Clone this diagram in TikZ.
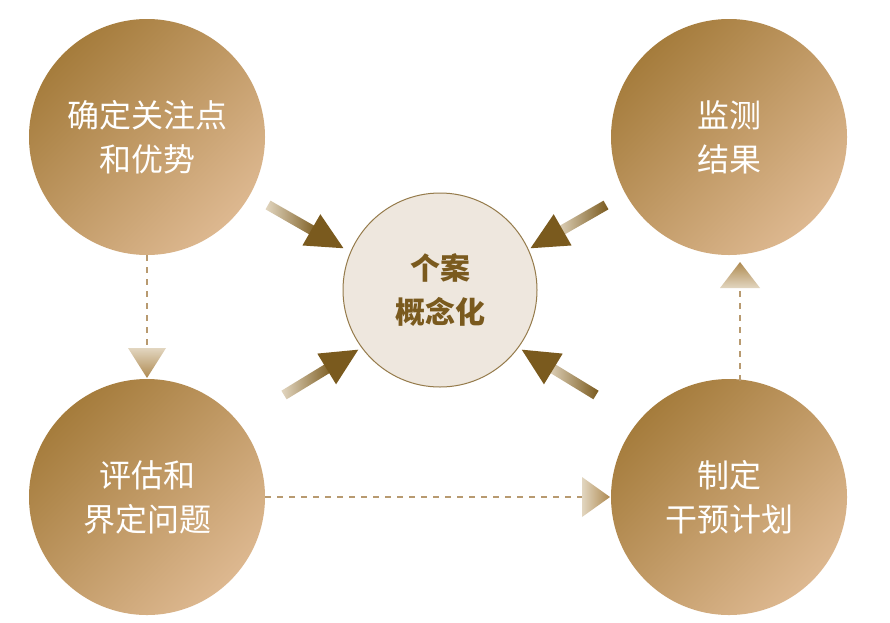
\documentclass[tikz,border=0pt]{standalone}
\usepackage{fontspec}
\newfontfamily\cjk{Noto Sans CJK SC}
\definecolor{cdark}{HTML}{A57C3C}
\definecolor{clight}{HTML}{DDB890}
\definecolor{cctr}{HTML}{EEE7DE}
\definecolor{cbrown}{HTML}{7A5A1E}
\definecolor{cdash}{HTML}{B89A70}
\definecolor{ctail}{HTML}{E2D6C0}
\tikzset{
  bigc/.style={circle,minimum size=236pt,inner sep=0pt,text=white,font=\cjk\fontsize{32}{44}\selectfont,align=center,
    top color=cdark,bottom color=clight,shading angle=45},
  ctrc/.style={circle,minimum size=194pt,inner sep=0pt,fill=cctr,draw=cbrown!80,line width=1pt,text=cbrown,
    font=\cjk\bfseries\fontsize{30}{44}\selectfont,align=center},
  dashl/.style={cdash,line width=1.5pt,dash pattern=on 6pt off 6pt},
}
\newcommand{\flowarrow}[3]{%
  \begin{scope}[shift={(#1,#2)},rotate=#3]
    \shade[left color=ctail,right color=cbrown] (0,-5) -- (55,-5) -- (55,5) -- (0,5) -- cycle;
    \fill[cbrown] (50,-18) -- (87,0) -- (50,18) -- cycle;
  \end{scope}}
\begin{document}
\begin{tikzpicture}[x=1pt,y=-1pt]
\useasboundingbox (0,0) rectangle (890,622);
\fill[white] (0,0) rectangle (890,622);
\node[bigc] (tl) at (147,137) {确定关注点\\和优势};
\node[bigc] (tr) at (729,137) {监测\\结果};
\node[bigc] (bl) at (147,497) {评估和\\界定问题};
\node[bigc] (br) at (729,497) {制定\\干预计划};
\node[ctrc] (c) at (440,290) {个案\\概念化};
\flowarrow{268}{205}{-29.8}
\flowarrow{606}{205}{-150.2}
\flowarrow{284}{395}{31.4}
\flowarrow{596}{395}{148.6}
% dashed connectors
\coordinate (a1) at (147,378);
\coordinate (a2) at (610,497);
\coordinate (a3) at (740,262);
\draw[dashl] (tl.south) -- (147,360);
\shade[top color=ctail,bottom color=cdark!90] (128,348) -- (166,348) -- (a1) -- cycle;
\draw[dashl] (bl.east) -- (590,497);
\shade[left color=ctail,right color=cdark!90] (582,477) -- (582,517) -- (a2) -- cycle;
\draw[dashl] (br.north) ++(11,2) -- (740,280);
\shade[bottom color=ctail,top color=cdark!90] (720,288) -- (760,288) -- (a3) -- cycle;
\end{tikzpicture}
\end{document}
